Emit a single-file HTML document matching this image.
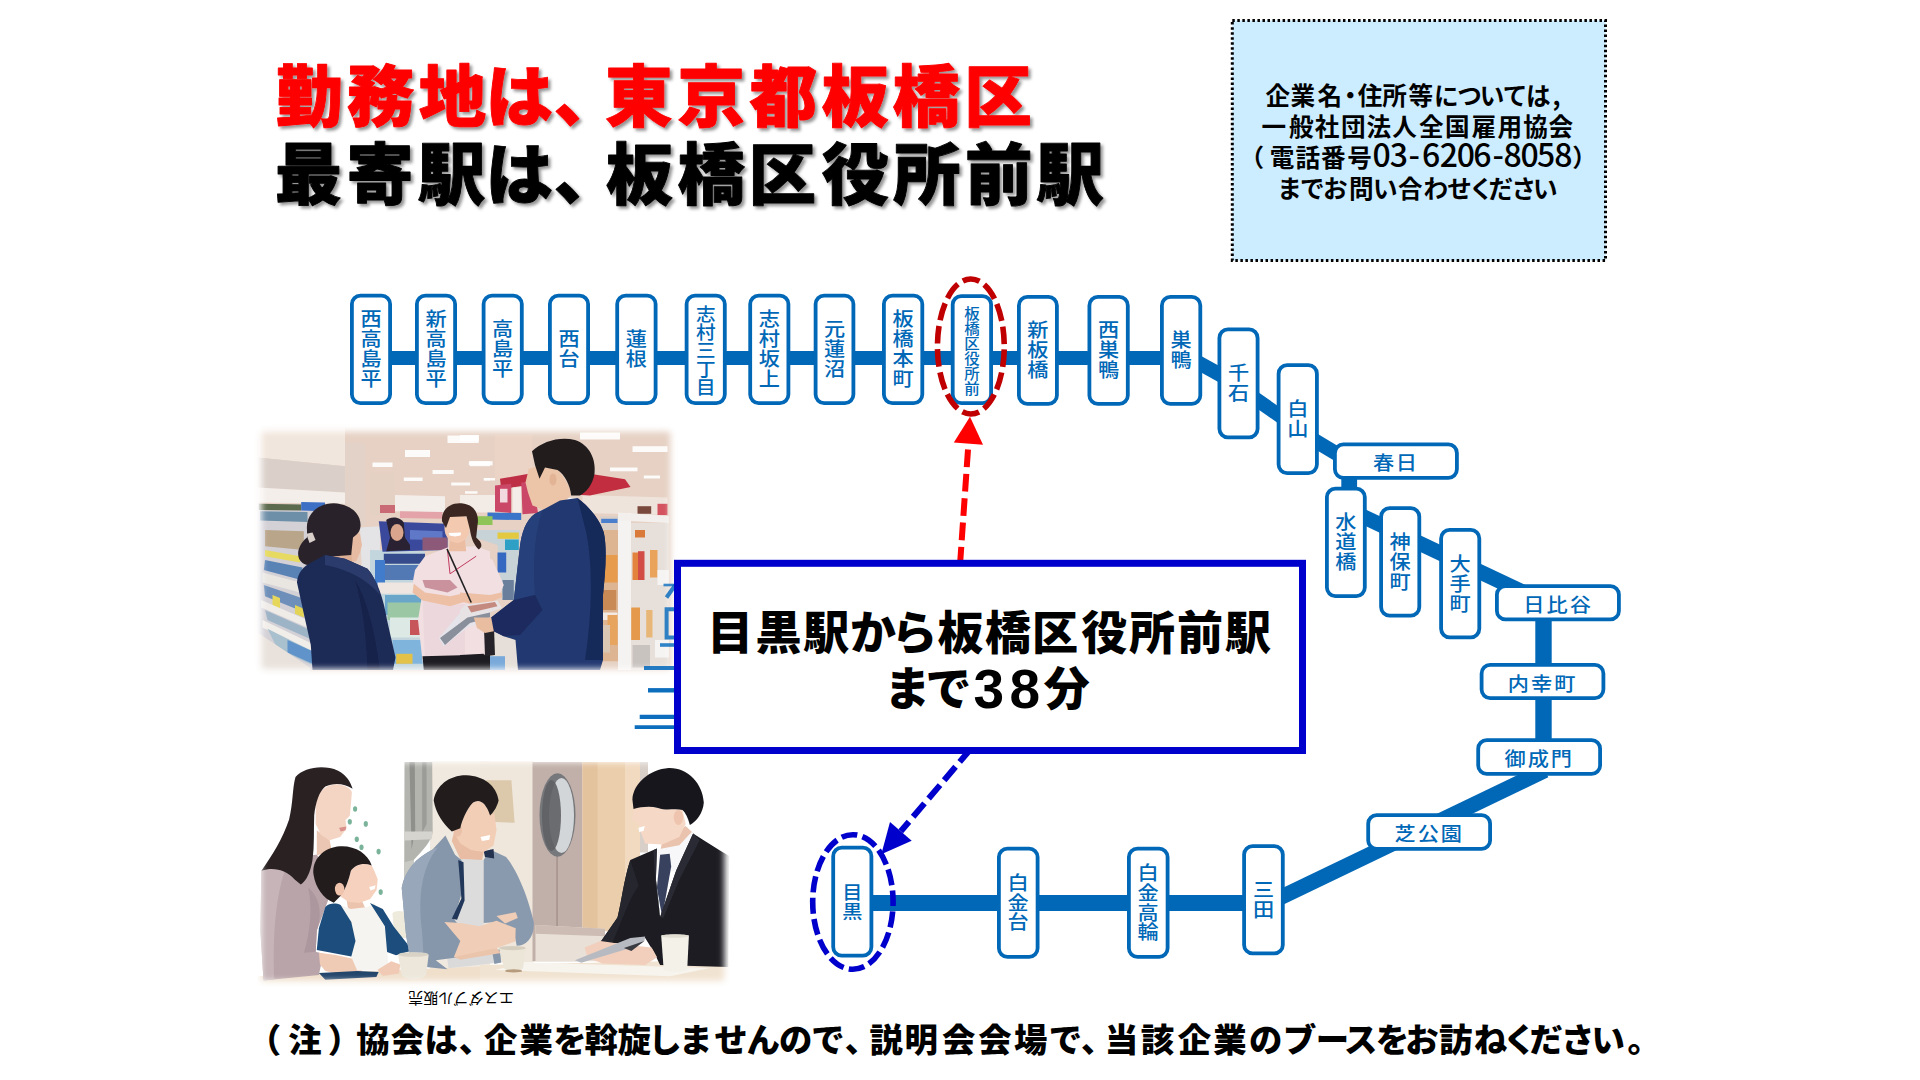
<!DOCTYPE html>
<html lang="ja">
<head>
<meta charset="utf-8">
<title>勤務地は、東京都板橋区</title>
<style>
html,body{margin:0;padding:0;background:#fff;}
body{width:1920px;height:1080px;overflow:hidden;position:relative;font-family:"Liberation Sans","Noto Sans CJK JP",sans-serif;}
svg{position:absolute;left:0;top:0;display:block;}
svg text{font-family:"Liberation Sans","Noto Sans CJK JP",sans-serif;}
.jp{font-family:"Noto Sans CJK JP","Liberation Sans",sans-serif;}
.st rect{fill:#fff;stroke:#0068B7;stroke-width:3.8;}
.lb text{fill:#0068B7;text-anchor:middle;font-family:"Noto Sans CJK JP","Liberation Sans",sans-serif;font-weight:500;}
.ttl{font-family:"Noto Sans CJK JP","Liberation Sans",sans-serif;font-weight:900;}
</style>
</head>
<body>
<svg width="1920" height="1080" viewBox="0 0 1920 1080">
<defs>
<filter id="tsh" x="-5%" y="-20%" width="110%" height="150%">
  <feDropShadow dx="2.6" dy="2.6" stdDeviation="1.6" flood-color="#000" flood-opacity="0.42"/>
</filter>
<filter id="soft" x="-2%" y="-2%" width="104%" height="104%"><feGaussianBlur stdDeviation="0.7"/></filter>
<filter id="feath" x="-10%" y="-10%" width="120%" height="120%"><feGaussianBlur stdDeviation="3.2"/></filter>
<mask id="pm1" maskUnits="userSpaceOnUse" x="240" y="415" width="450" height="275"><rect x="261.5" y="431.5" width="409" height="237.5" rx="3" fill="#fff" filter="url(#feath)"/></mask>
<mask id="pm2" maskUnits="userSpaceOnUse" x="240" y="745" width="510" height="255"><rect x="261" y="762" width="463.5" height="219" rx="3" fill="#fff" filter="url(#feath)"/></mask>
</defs>
<rect width="1920" height="1080" fill="#fff"/>

<!-- ===== photos ===== -->
<g mask="url(#pm1)"><g filter="url(#soft)"><rect x="250" y="424" width="430" height="256" fill="#E6D1C4"/>
<rect x="447.5" y="435.5" width="31.2" height="7.5" fill="#FFFFFF" opacity=".9"/>
<rect x="405.0" y="450.0" width="25.0" height="7.0" fill="#FFFFFF" opacity=".9"/>
<rect x="470.0" y="461.2" width="20.0" height="5.0" fill="#FFFFFF" opacity=".9"/>
<rect x="372.5" y="462.5" width="20.0" height="4.5" fill="#FFFFFF" opacity=".9"/>
<rect x="432.5" y="470.0" width="21.2" height="4.0" fill="#FFFFFF" opacity=".9"/>
<rect x="348.8" y="471.2" width="16.2" height="4.2" fill="#FFFFFF" opacity=".9"/>
<rect x="403.8" y="477.5" width="18.8" height="3.5" fill="#FFFFFF" opacity=".9"/>
<rect x="451.2" y="482.5" width="18.8" height="3.0" fill="#FFFFFF" opacity=".9"/>
<rect x="483.8" y="478.0" width="6.2" height="2.5" fill="#FFFFFF" opacity=".9"/>
<rect x="460.0" y="435.0" width="18.8" height="6.2" fill="#FFFFFF" opacity=".9"/>
<rect x="580.0" y="432.5" width="40.0" height="7.0" fill="#FFFFFF" opacity=".9"/>
<rect x="468.8" y="461.2" width="23.8" height="4.2" fill="#FFFFFF" opacity=".9"/>
<rect x="632.5" y="446.2" width="35.0" height="5.8" fill="#FFFFFF" opacity=".9"/>
<rect x="610.0" y="467.5" width="27.5" height="3.8" fill="#FFFFFF" opacity=".9"/>
<rect x="483.8" y="478.0" width="11.2" height="2.5" fill="#FFFFFF" opacity=".9"/>
<rect x="643.8" y="475.5" width="16.2" height="3.0" fill="#FFFFFF" opacity=".9"/>
<rect x="465.0" y="491.2" width="12.5" height="2.5" fill="#FFFFFF" opacity=".9"/>
<path d="M257.5 427.5 L345.0 427.5 L345.0 466.2 L257.5 457.5 Z" fill="#F1E6DD"/>
<path d="M257.5 457.5 L345.0 466.2 L345.0 492.5 L257.5 487.5 Z" fill="#DAD0C9"/>
<path d="M257.5 487.5 L345.0 492.5 L345.0 503.8 L257.5 502.5 Z" fill="#F3EEEA"/>
<path d="M345.0 442.5 L365.0 443.8 L365.0 525.0 L345.0 525.0 Z" fill="#E3D2C8"/>
<path d="M370.0 472.5 L395.0 472.5 L395.0 515.0 L370.0 515.0 Z" fill="#E5D0C4"/>
<path d="M395.0 495.0 L445.0 496.2 L445.0 512.5 L395.0 511.2 Z" fill="#F4EEEA"/>
<path d="M380.0 505.0 L395.0 505.0 L395.0 513.0 L380.0 513.0 Z" fill="#C96A74"/>
<path d="M400.0 511.2 L442.5 512.0 L442.5 518.8 L400.0 518.0 Z" fill="#E3A3A8"/>
<path d="M257.5 503.8 L315.0 505.0 L315.0 670.0 L257.5 670.0 Z" fill="#D3D0D6"/>
<path d="M258.8 503.8 L301.2 504.5 L301.2 510.5 L258.8 510.0 Z" fill="#5C6A4E"/>
<path d="M301.2 502.0 L325.0 502.5 L325.0 511.2 L301.2 510.5 Z" fill="#3D6FC4"/>
<path d="M260.0 511.2 L307.5 512.0 L307.5 522.0 L260.0 520.5 Z" fill="#6E8FA8"/>
<path d="M265.0 530.0 L303.8 531.2 L303.8 550.0 L265.0 546.2 Z" fill="#B9A58A"/>
<path d="M265.0 550.0 L300.0 556.2 L300.0 562.5 L265.0 556.2 Z" fill="#E7DA63"/>
<path d="M265.0 560.0 L302.5 567.5 L301.2 580.0 L263.8 570.0 Z" fill="#5A83B5"/>
<path d="M262.5 572.5 L300.0 582.5 L300.0 592.5 L262.5 582.5 Z" fill="#E9E6E2"/>
<path d="M263.8 585.0 L303.8 598.8 L305.0 612.5 L265.0 596.2 Z" fill="#6D8FB9"/>
<path d="M272.5 595.0 L280.0 598.0 L280.0 610.0 L272.5 606.2 Z" fill="#E6D75A"/>
<path d="M261.2 600.0 L307.5 620.0 L307.5 627.5 L261.2 607.5 Z" fill="#EFECE8"/>
<path d="M265.0 610.0 L310.0 630.0 L312.5 640.0 L267.5 620.0 Z" fill="#9DB3C6"/>
<path d="M295.0 605.0 L303.8 608.8 L303.8 617.5 L295.0 613.8 Z" fill="#E4D456"/>
<path d="M262.5 620.0 L315.0 645.0 L315.0 652.5 L262.5 627.5 Z" fill="#F1EEEA"/>
<path d="M267.5 628.8 L315.0 652.5 L315.0 666.2 L277.5 648.8 Z" fill="#A9C0CE"/>
<path d="M287.5 640.0 L312.5 651.2 L312.5 663.8 L287.5 652.5 Z" fill="#5E93C9"/>
<path d="M257.5 632.5 L310.0 667.5 L310.0 672.5 L257.5 672.5 Z" fill="#E9E2DC"/>
<path d="M360.0 527.5 L380.0 526.2 L380.0 585.0 L362.5 585.0 Z" fill="#E4E4E6"/>
<path d="M370.0 550.0 L425.0 551.2 L425.0 670.0 L370.0 670.0 Z" fill="#C3D5DD"/>
<path d="M378.8 521.2 L447.5 523.8 L447.5 550.0 L382.5 551.8 Z" fill="#3B4A9C"/>
<path d="M386.2 520.0 C390.0 516.2 400.0 516.2 403.8 522.5 L405.0 537.5 L410.0 545.0 L410.0 550.0 L386.2 551.2 L390.0 537.5 Z" fill="#2A2430"/>
<ellipse cx="397.0" cy="532.5" rx="6.5" ry="8.5" fill="#D9A58C"/>
<path d="M410.0 530.0 L442.5 531.2 L442.5 540.0 L410.0 539.5 Z" fill="#5F79C8"/>
<path d="M422.5 537.5 L447.5 537.5 L447.5 550.0 L422.5 550.0 Z" fill="#8C5A78"/>
<path d="M383.8 553.8 L425.0 553.8 L425.0 563.8 L383.8 563.8 Z" fill="#344B8C"/>
<path d="M385.0 565.0 L420.0 565.0 L420.0 580.0 L385.0 580.0 Z" fill="#5279B5"/>
<path d="M375.0 560.0 L385.0 560.0 L385.0 590.0 L375.0 590.0 Z" fill="#3F7CCB"/>
<path d="M377.5 582.5 L425.0 582.5 L425.0 593.8 L377.5 593.8 Z" fill="#EFE6E2"/>
<path d="M385.0 595.0 L425.0 595.0 L425.0 615.0 L385.0 615.0 Z" fill="#6AA6C9"/>
<path d="M387.5 602.5 L425.0 602.5 L425.0 620.0 L387.5 620.0 Z" fill="#9CC7A5"/>
<path d="M390.0 617.5 L422.5 617.5 L422.5 637.5 L390.0 637.5 Z" fill="#DDE9E4"/>
<path d="M410.0 620.0 L422.5 620.0 L422.5 635.0 L410.0 635.0 Z" fill="#C7565A"/>
<path d="M392.5 640.0 L422.5 640.0 L422.5 663.8 L392.5 663.8 Z" fill="#7FB4DD"/>
<path d="M396.2 653.8 L412.5 653.8 L412.5 663.8 L396.2 663.8 Z" fill="#E4C24A"/>
<path d="M495.0 435.0 L532.5 435.0 L532.5 480.0 L495.0 480.0 Z" fill="#EBD3C5"/>
<path d="M460.0 495.0 L495.0 495.0 L495.0 512.5 L460.0 512.5 Z" fill="#F3ECE6"/>
<path d="M582.5 495.0 L667.5 497.5 L667.5 515.0 L582.5 513.0 Z" fill="#EFE4DC"/>
<path d="M500.0 478.8 L528.8 473.8 L530.0 484.5 L501.2 489.5 Z" fill="#BE2D45"/>
<path d="M495.0 485.5 L511.2 483.8 L511.2 513.0 L495.0 511.5 Z" fill="#CB4767"/>
<path d="M500.0 488.8 L507.5 488.8 L507.5 502.5 L500.0 502.5 Z" fill="#F2D9DF"/>
<path d="M521.2 482.5 L533.0 481.2 L538.0 513.0 L522.5 514.2 Z" fill="#CB4767"/>
<path d="M512.5 487.5 L521.2 487.0 L521.2 512.5 L512.5 512.5 Z" fill="#F3ECE8"/>
<path d="M582.0 478.0 L590.0 473.8 L625.0 479.2 L630.5 487.0 L590.0 495.5 L581.0 495.0 Z" fill="#C22E3F"/>
<path d="M637.5 506.2 L651.2 506.2 L651.2 513.8 L637.5 513.8 Z" fill="#7A4A3C"/>
<path d="M657.5 503.8 L667.5 503.8 L667.5 515.0 L657.5 515.0 Z" fill="#D3525E"/>
<path d="M487.5 512.5 L521.2 513.0 L521.2 520.0 L487.5 519.5 Z" fill="#3A74C9"/>
<path d="M477.0 516.2 L492.5 516.2 L492.5 525.0 L477.0 525.0 Z" fill="#8FC558"/>
<path d="M475.0 530.0 L520.0 530.0 L516.2 600.0 L502.5 600.0 L497.5 545.0 L475.0 537.5 Z" fill="#C7D3D6"/>
<path d="M497.5 532.5 L518.8 532.5 L518.8 538.8 L497.5 538.8 Z" fill="#E3C93F"/>
<path d="M505.0 539.5 L518.8 539.5 L518.8 550.0 L505.0 550.0 Z" fill="#2FA0C6"/>
<path d="M497.5 552.5 L506.2 552.5 L506.2 572.5 L497.5 572.5 Z" fill="#3567C0"/>
<path d="M502.5 580.0 L513.8 580.0 L513.8 600.0 L502.5 600.0 Z" fill="#6B7F9C"/>
<path d="M600.0 516.2 L620.0 516.2 L620.0 530.0 L600.0 530.0 Z" fill="#D8CFC9"/>
<path d="M601.2 518.8 L617.5 518.8 L617.5 523.0 L601.2 523.0 Z" fill="#4A7FCC"/>
<path d="M595.0 530.0 L618.8 530.0 L618.8 661.2 L595.0 661.2 Z" fill="#DDB592"/>
<path d="M603.8 555.0 L617.5 555.0 L617.5 582.5 L603.8 582.5 Z" fill="#E79B4E"/>
<path d="M596.2 590.0 L616.2 590.0 L616.2 610.0 L596.2 610.0 Z" fill="#C98A55"/>
<path d="M596.2 612.5 L617.5 612.5 L617.5 620.0 L596.2 620.0 Z" fill="#F1E9E2"/>
<path d="M607.5 615.0 L617.5 615.0 L617.5 645.0 L607.5 645.0 Z" fill="#E7A45E"/>
<path d="M596.2 625.0 L610.0 625.0 L610.0 652.5 L596.2 652.5 Z" fill="#D9C7B4"/>
<path d="M618.0 513.0 L631.0 513.0 L631.0 670.0 L618.0 670.0 Z" fill="#F5F3F1"/>
<path d="M618.0 512.5 L668.8 516.0 L668.8 523.0 L618.0 520.5 Z" fill="#F2EFEC"/>
<path d="M631.0 523.0 L668.8 523.0 L668.8 670.0 L631.0 670.0 Z" fill="#E7E0DA"/>
<path d="M635.0 530.0 L645.0 530.0 L645.0 537.5 L635.0 537.5 Z" fill="#D97A3A"/>
<path d="M632.5 552.5 L638.0 552.5 L638.0 580.0 L632.5 580.0 Z" fill="#E2823E"/>
<path d="M638.0 551.2 L644.5 551.2 L644.5 580.0 L638.0 580.0 Z" fill="#D24B45"/>
<path d="M650.0 550.0 L657.5 550.0 L657.5 577.5 L650.0 577.5 Z" fill="#E9A35A"/>
<path d="M631.2 607.5 L640.0 607.5 L640.0 640.0 L631.2 640.0 Z" fill="#E59A4C"/>
<path d="M646.2 610.0 L652.5 610.0 L652.5 637.5 L646.2 637.5 Z" fill="#E8B777"/>
<path d="M657.5 570.0 L668.8 570.0 L668.8 585.0 L657.5 585.0 Z" fill="#F6F4F2"/>
<path d="M655.0 640.0 L668.8 640.0 L668.8 657.5 L655.0 657.5 Z" fill="#F6F4F2"/>
<path d="M632.5 645.0 L650.0 645.0 L650.0 667.5 L632.5 667.5 Z" fill="#C9C3C0"/>
<path d="M485.0 632.5 L520.0 632.5 L520.0 670.0 L482.5 670.0 Z" fill="#E6DFD9"/>
<path d="M483.8 656.2 L505.0 656.2 L505.0 670.0 L483.8 670.0 Z" fill="#79A9DA"/>
<path d="M348.8 531.2 L360.0 533.8 L362.0 545.0 L360.0 552.5 L356.2 561.2 L348.8 562.5 Z" fill="#E7BBA2"/>
<path d="M332.5 550.0 L351.2 550.0 L352.5 563.8 L332.5 565.0 Z" fill="#DDB096"/>
<path d="M307.0 530.0 C305.5 515.0 317.5 503.0 333.8 503.2 C350.0 503.8 361.5 513.8 360.5 526.2 C360.0 532.5 356.2 535.0 353.0 537.5 L351.2 555.0 L325.0 557.0 C320.0 563.8 310.0 568.0 302.5 563.0 C295.0 557.5 297.5 545.0 307.0 537.5 Z" fill="#2B2429"/>
<path d="M306.2 533.8 L312.5 532.5 L315.5 540.0 L309.5 543.0 Z" fill="#D9D0CC"/>
<path d="M325.0 555.0 L345.0 558.8 L367.5 568.8 C377.5 580.0 383.8 600.0 387.0 620.0 L395.5 657.5 L393.0 670.0 L312.5 670.0 L310.8 645.0 L303.0 610.0 L297.0 582.5 C297.5 572.5 303.8 566.2 311.2 562.5 Z" fill="#1E2B57"/>
<path d="M325.0 555.0 L345.0 558.8 L367.5 568.8 C373.8 576.2 377.5 585.0 380.0 595.0 C367.5 580.0 350.0 570.0 325.0 565.0 Z" fill="#2A3A6C"/>
<path d="M355.0 580.0 C367.5 600.0 375.0 632.5 380.0 670.0 L367.5 670.0 C366.2 635.0 362.5 605.0 355.0 580.0 Z" fill="#17224A"/>
<path d="M425.0 556.2 L447.5 547.5 L475.0 546.2 L490.0 551.2 L490.0 658.8 L422.5 661.2 L418.0 620.0 L422.5 592.5 L412.5 583.8 L415.0 570.0 Z" fill="#F1DFE2"/>
<path d="M460.0 550.0 L477.5 550.0 L492.5 560.0 L503.8 585.0 L500.0 593.8 L490.0 596.2 L485.0 610.0 L487.5 655.0 L460.0 660.0 Z" fill="#F1DFE2"/>
<path d="M422.5 595.0 L450.0 605.0 L465.0 603.8 L465.0 660.0 L425.0 661.2 Z" fill="#E9D3D8" opacity=".6"/>
<path d="M422.5 656.2 L490.0 654.5 L490.0 670.0 L423.8 670.0 Z" fill="#1C1B20"/>
<path d="M460.0 655.0 L483.8 653.8 L485.0 670.0 L460.0 670.0 Z" fill="#1C1B20"/>
<path d="M483.8 622.5 L493.8 622.5 L495.0 655.0 L485.0 656.2 Z" fill="#26242A"/>
<path d="M413.8 583.8 L425.0 592.5 L450.0 596.2 L467.5 592.5 L471.2 600.0 L450.0 606.2 L422.5 600.5 L412.5 592.5 Z" fill="#EDC0A6"/>
<path d="M460.0 592.5 L490.0 595.0 L501.2 592.5 L502.5 597.0 L490.0 602.5 L470.0 603.8 L460.0 601.2 Z" fill="#EDC0A6"/>
<path d="M422.5 580.0 L450.0 580.0 L457.5 587.5 L447.5 592.5 L425.0 587.5 Z" fill="#C9929D"/>
<path d="M447.5 550.0 L450.0 573.8 L476.2 556.2" fill="none" stroke="#C23A5E" stroke-width="1"/>
<path d="M447.0 548.8 L471.2 602.5" fill="none" stroke="#222" stroke-width="1.6"/>
<path d="M450.0 540.0 L465.0 540.0 L466.2 551.2 L448.8 551.2 Z" fill="#EBBDA3"/>
<ellipse cx="457.0" cy="528.0" rx="12.5" ry="15.0" fill="#F3C9B0"/>
<path d="M442.0 521.2 C441.2 507.5 452.5 502.0 463.0 503.5 C475.0 505.0 479.5 515.0 477.5 525.0 L476.2 537.5 C482.0 542.5 483.0 546.2 478.8 549.5 C473.8 545.0 471.0 537.5 470.0 530.0 L466.5 516.2 L450.0 517.0 L446.0 528.0 Z" fill="#3A2621"/>
<path d="M448.8 533.0 L461.2 532.5 L460.5 535.5 L455.0 536.5 L449.5 535.5 Z" fill="#FFFFFF"/>
<path d="M438.8 638.0 L462.5 610.0 L490.0 603.8 L490.0 620.0 L467.5 627.5 L443.8 646.2 Z" fill="#E4E4EA"/>
<path d="M460.0 610.0 L465.0 605.0 L497.5 600.5 L502.0 608.0 L475.0 617.5 L460.0 627.5 Z" fill="#E7E2E4"/>
<path d="M467.5 606.2 L495.0 602.0 L497.5 606.2 L471.2 612.5 Z" fill="#C48A80"/>
<path d="M440.0 638.0 L467.5 617.5 L490.0 612.5 L490.0 617.5 L470.0 623.0 L445.0 645.0 Z" fill="#8A8F9C"/>
<path d="M545.0 506.2 L560.0 497.5 L577.5 498.0 L565.0 504.5 L546.2 511.2 Z" fill="#F5F5F7"/>
<path d="M528.8 468.8 L539.5 466.2 L545.0 467.5 L557.5 470.0 C565.0 477.5 570.0 487.5 571.2 495.0 L560.0 506.2 L542.5 509.2 L532.5 505.5 L528.0 492.5 L525.5 482.5 Z" fill="#ECC4A8"/>
<path d="M532.0 451.2 C542.5 441.2 560.0 436.2 575.0 440.0 C590.0 445.0 596.2 460.0 594.5 473.8 C592.5 485.0 586.2 492.5 580.0 495.5 L571.2 495.5 C570.0 485.0 565.0 475.0 557.5 470.0 L545.0 467.5 L539.5 478.8 L535.0 465.0 Z" fill="#201C1F"/>
<ellipse cx="553.0" cy="479.5" rx="3.5" ry="6.0" fill="#E2B395"/>
<path d="M560.0 500.5 L577.5 498.0 C590.0 507.5 600.0 520.0 603.8 532.5 C607.5 550.0 605.0 575.0 603.0 595.0 L603.0 660.0 L600.0 670.0 L518.0 670.0 L515.5 640.0 L503.8 636.2 L493.8 631.2 C489.5 627.5 489.5 620.0 491.2 617.5 L513.8 600.0 L519.5 550.0 C521.2 532.5 526.2 520.0 535.0 513.8 L546.2 508.0 Z" fill="#22386F"/>
<path d="M577.5 498.0 C590.0 507.5 600.0 520.0 603.8 532.5 C607.5 550.0 605.0 575.0 603.0 595.0 L603.0 660.0 L585.0 660.0 C591.2 620.0 593.8 570.0 586.2 532.5 Z" fill="#18295A"/>
<path d="M519.5 550.0 C521.2 532.5 526.2 520.0 535.0 513.8 L542.5 510.5 C535.0 530.0 532.5 560.0 535.0 595.0 L513.8 600.0 Z" fill="#28407C"/>
<path d="M513.8 600.0 L535.0 595.0 L542.5 610.0 L520.0 635.0 L503.8 636.2 L493.8 631.2 C489.5 627.5 489.5 620.0 491.2 617.5 Z" fill="#1B2C5E"/>
<path d="M473.8 617.5 L491.2 617.5 L493.8 631.2 L485.0 633.0 L477.0 628.0 Z" fill="#E9BD9F"/></g></g>
<g mask="url(#pm2)"><g filter="url(#soft)"><rect x="250" y="752" width="490" height="240" fill="#FFFFFF"/>
<path d="M430.0 761.2 L490.0 761.2 L490.0 970.0 L430.0 970.0 Z" fill="#F0E9DF"/>
<path d="M480.0 761.2 L533.8 761.2 L533.8 962.5 L480.0 962.5 Z" fill="#EFE7DC"/>
<path d="M485.9 780.2 L511.4 780.2 L514.6 822.8 L490.1 821.8 Z" fill="#DCC8AB"/>
<path d="M404.5 762.1 L432.2 762.1 L432.7 832.4 C430.7 842.0 423.3 849.5 413.7 860.1 L412.6 907.0 L404.1 907.0 Z" fill="#B4B4AF"/>
<path d="M409.4 762.1 L414.8 762.1 L415.2 830.3 L411.6 849.5 Z" fill="#8F908C"/>
<path d="M422.2 762.1 L426.5 762.1 L426.7 823.9 L422.2 832.4 Z" fill="#9B9C98"/>
<path d="M404.1 831.4 L432.7 831.4 L431.8 839.2 L404.1 840.5 Z" fill="#D6D4CE"/>
<path d="M404.1 862.2 L413.7 860.1 L412.6 907.0 L404.1 907.0 Z" fill="#C9C9C4"/>
<ellipse cx="349.8" cy="821.8" rx="2.1" ry="2.8" fill="#4E9A78" opacity=".75"/>
<ellipse cx="356.8" cy="839.2" rx="2.1" ry="2.8" fill="#4E9A78" opacity=".75"/>
<ellipse cx="365.8" cy="823.9" rx="2.1" ry="2.8" fill="#4E9A78" opacity=".75"/>
<ellipse cx="378.6" cy="851.6" rx="2.1" ry="2.8" fill="#4E9A78" opacity=".75"/>
<ellipse cx="361.5" cy="847.3" rx="2.1" ry="2.8" fill="#4E9A78" opacity=".75"/>
<ellipse cx="355.1" cy="809.0" rx="2.1" ry="2.8" fill="#4E9A78" opacity=".75"/>
<ellipse cx="380.7" cy="892.1" rx="2.1" ry="2.8" fill="#4E9A78" opacity=".75"/>
<path d="M532.5 762.0 L582.5 762.0 L582.5 961.2 L532.5 961.2 Z" fill="#C1B0A9"/>
<path d="M556.2 855.0 L558.0 855.0 L558.0 960.0 L556.2 960.0 Z" fill="#A99790"/>
<path d="M582.5 762.0 L640.0 762.0 L640.0 931.2 L582.5 931.2 Z" fill="#EBCFAD"/>
<path d="M582.5 762.0 L597.5 762.0 L597.5 931.2 L582.5 931.2 Z" fill="#E3C29E"/>
<path d="M625.0 762.0 L640.0 762.0 L640.0 931.2 L625.0 931.2 Z" fill="#F1DAC0"/>
<path d="M640.0 762.0 L648.0 762.0 L648.0 852.5 L640.0 852.5 Z" fill="#D9CFC9"/>
<path d="M535.5 925.0 L605.0 928.8 L605.0 961.2 L535.5 961.2 Z" fill="#E9E1D8"/>
<path d="M535.5 925.0 L605.0 928.8 L605.0 936.2 L535.5 933.8 Z" fill="#CDBCB3"/>
<ellipse cx="557.5" cy="815.0" rx="18.0" ry="41.8" fill="#77787C"/>
<ellipse cx="561.5" cy="815.5" rx="12.5" ry="37.5" fill="#D3D6D8"/>
<ellipse cx="551.5" cy="815.5" rx="9.5" ry="35.5" fill="#5F6064" opacity=".9"/>
<path d="M392.4 913.4 C394.5 910.2 404.1 910.2 406.7 913.4 L407.3 937.9 L394.5 937.9 Z" fill="#EEEBDD"/>
<path d="M257.5 976.2 L425.0 968.8 L490.0 966.2 L490.0 987.5 L257.5 987.5 Z" fill="#EFDFCB"/>
<path d="M480.0 965.0 L730.0 960.0 L730.0 987.5 L480.0 987.5 Z" fill="#F1E3D1"/>
<path d="M525.0 962.5 L710.0 968.0 L670.0 976.2 L495.0 970.0 Z" fill="#F7F4EE"/>
<path d="M316.8 830.3 L329.6 839.9 L331.7 850.5 L316.8 855.4 Z" fill="#EBC6B2"/>
<path d="M261.4 870.8 C267.8 864.4 280.6 858.0 291.2 855.9 L316.8 854.8 L325.3 866.5 L329.6 896.3 L323.2 913.4 L316.8 930.4 L315.7 951.7 L323.2 953.8 L318.9 975.1 L263.5 980.5 L260.3 930.4 Z" fill="#B8A4A9"/>
<path d="M261.4 870.8 C267.8 864.4 280.6 858.0 291.2 855.9 C278.4 879.3 272.0 921.9 274.2 979.4 L263.5 980.5 L260.3 930.4 Z" fill="#C6B4B8"/>
<path d="M308.3 887.8 C318.9 896.3 323.2 913.4 316.8 930.4 L315.7 951.7 L304.0 952.8 C310.4 930.4 312.5 909.1 308.3 887.8 Z" fill="#AB979D"/>
<path d="M315.7 802.6 C317.8 792.0 325.3 785.6 333.8 784.5 C342.3 783.4 349.8 787.7 351.9 792.0 L350.9 804.7 L349.8 815.8 L345.5 820.1 L346.6 828.6 L340.2 837.1 L329.6 840.3 L321.0 835.0 L315.7 823.9 Z" fill="#F4D5C4"/>
<path d="M339.1 827.7 L346.2 826.5 L345.5 830.3 L340.6 831.6 Z" fill="#D98F8A"/>
<path d="M295.5 777.0 C304.0 767.5 323.2 764.3 338.1 770.7 C346.6 774.9 350.9 782.4 352.6 788.8 C344.5 783.4 333.8 782.4 325.3 786.6 C318.9 792.0 315.7 802.6 314.2 815.4 C313.6 830.3 314.6 845.2 312.5 860.1 C310.4 872.9 306.1 881.4 300.8 884.6 L294.4 879.3 C287.0 870.8 274.2 866.5 261.4 870.8 C272.0 855.9 282.7 838.8 289.1 819.6 C293.3 802.6 292.3 787.7 295.5 777.0 Z" fill="#2A2124"/>
<path d="M318.9 952.8 L335.9 954.9 L355.1 959.2 L363.6 966.6 L359.4 976.2 L344.5 975.1 L325.3 970.9 L320.0 964.5 Z" fill="#EFCAB5"/>
<path d="M346.6 899.5 L362.6 902.3 L366.2 910.2 L348.3 910.2 Z" fill="#ECC3AD"/>
<path d="M340.2 904.9 L350.9 909.1 L367.9 907.0 L374.3 902.7 L385.4 926.2 L387.5 951.7 L388.3 970.5 L357.2 970.5 L350.9 956.0 L355.1 941.1 L350.9 921.9 Z" fill="#F6F4F0"/>
<path d="M325.3 907.0 C329.6 902.7 335.9 903.1 340.6 904.9 L351.3 921.9 L355.5 941.1 L351.3 956.4 L316.8 950.0 L318.9 928.3 Z" fill="#1E4E7B"/>
<path d="M370.0 903.1 L382.8 909.1 L393.5 926.2 L408.4 945.3 L410.5 951.1 L396.0 955.3 L387.1 952.1 L384.9 926.2 Z" fill="#1E4E7B"/>
<path d="M318.9 973.0 L357.2 970.9 L378.6 972.0 L376.4 976.9 L325.3 979.8 Z" fill="#23456B"/>
<path d="M377.5 969.8 L391.3 961.3 L400.3 964.5 L399.0 973.4 L382.8 976.0 Z" fill="#F0CAB4"/>
<path d="M350.9 870.8 C355.1 864.4 363.6 862.2 371.7 865.4 L374.3 870.8 L377.7 879.3 L376.6 889.9 L370.2 898.9 L359.4 903.1 L348.7 902.1 L340.2 896.3 C346.6 887.8 348.7 879.3 350.9 870.8 Z" fill="#F6D1BD"/>
<path d="M369.2 887.0 L375.6 885.3 L374.7 889.1 L370.5 890.4 Z" fill="#FFFFFF"/>
<path d="M313.6 875.0 C311.4 860.1 323.2 847.3 340.2 846.3 C355.1 845.6 367.9 853.7 371.7 865.4 C363.6 862.2 355.1 864.4 350.9 870.8 C348.7 879.3 346.6 887.8 340.2 896.3 L333.8 902.7 C323.2 898.5 315.7 887.8 313.6 875.0 Z" fill="#221C1E"/>
<ellipse cx="339.6" cy="889.1" rx="4.7" ry="6.4" fill="#EFC3AC"/>
<path d="M453.9 832.4 L470.9 849.5 L483.7 851.6 L482.0 860.5 L460.3 859.1 L451.8 840.9 Z" fill="#E8BDA3"/>
<path d="M460.3 859.1 L483.7 860.1 L483.7 930.4 L453.9 928.3 L463.5 887.8 Z" fill="#DCDCDD"/>
<path d="M447.1 958.1 L496.5 951.3 L499.9 962.4 L448.6 968.3 Z" fill="#DADADB"/>
<path d="M401.7 887.8 C404.9 870.8 415.6 858.0 432.6 849.5 L445.4 835.6 L455.0 854.8 L461.4 860.1 L463.5 887.8 L453.9 918.7 L462.4 930.4 L460.3 957.0 L435.8 960.2 L447.5 969.2 L411.3 965.6 L406.0 934.7 Z" fill="#8797AB"/>
<path d="M401.7 887.8 C404.9 870.8 415.6 858.0 432.6 849.5 L437.9 847.3 C422.0 866.5 417.7 896.3 422.0 930.4 L424.1 964.5 L411.3 965.6 L406.0 934.7 Z" fill="#98A7B9"/>
<path d="M483.7 860.1 L490.1 849.5 L506.1 856.9 C517.8 870.8 528.5 898.5 533.8 921.9 C534.9 936.8 526.3 945.8 516.7 945.8 L513.6 930.4 L496.5 921.9 L483.7 923.0 Z" fill="#8A9AAE"/>
<path d="M492.2 951.7 L499.9 949.2 L501.2 962.4 L494.4 964.1 Z" fill="#8797AB"/>
<path d="M458.2 860.1 L463.5 862.2 L464.6 900.6 L457.1 919.8 L451.8 918.7 L461.4 898.5 Z" fill="#22375A"/>
<path d="M483.7 851.2 L493.5 849.0 L494.2 858.4 L485.0 857.1 Z" fill="#20304F"/>
<path d="M444.3 921.9 L460.3 923.0 L479.5 926.2 L496.5 920.8 L515.7 928.3 L515.3 941.5 L496.5 947.9 L460.3 957.5 L453.9 957.0 L460.3 941.1 Z" fill="#F0CDB6"/>
<path d="M453.9 957.0 L496.5 947.9 L501.2 953.0 L460.3 959.8 Z" fill="#EBC4AC"/>
<path d="M496.5 915.9 L515.7 912.3 L517.8 918.1 L505.0 923.6 Z" fill="#F0CDB6"/>
<path d="M460.3 828.2 C462.4 819.6 466.7 809.0 473.1 802.6 C479.5 798.3 485.9 802.6 490.1 815.4 L494.4 813.3 L496.5 830.3 L493.5 845.6 L483.7 852.0 L470.9 849.9 L460.3 843.5 L453.9 832.4 Z" fill="#F3CEB7"/>
<path d="M480.5 837.1 L490.1 835.0 L489.3 839.7 L482.0 840.9 Z" fill="#FFFFFF"/>
<ellipse cx="457.7" cy="830.3" rx="4.3" ry="6.4" fill="#EBC0A8"/>
<path d="M433.7 800.5 C435.8 785.6 449.6 774.9 466.7 775.3 C483.7 776.0 496.5 785.6 498.6 800.5 C496.5 809.0 492.2 813.3 490.1 815.4 C485.9 802.6 479.5 798.3 473.1 802.6 C466.7 809.0 462.4 819.6 460.3 828.2 L451.8 831.4 C443.3 823.9 435.8 813.3 433.7 800.5 Z" fill="#211C1D"/>
<path d="M398.1 954.9 C400.9 951.7 426.5 951.7 428.6 954.9 L426.1 975.1 C423.3 980.5 404.1 980.5 401.6 975.1 Z" fill="#ECE7DA"/>
<ellipse cx="413.5" cy="954.5" rx="14.9" ry="2.3" fill="#D8D3C6"/>
<path d="M499.1 948.5 C500.8 945.3 524.2 945.3 525.9 948.5 L523.1 967.7 C519.9 973.0 506.1 973.0 504.0 967.7 Z" fill="#ECE6D8"/>
<ellipse cx="512.5" cy="948.1" rx="13.2" ry="2.1" fill="#D5CEBF"/>
<ellipse cx="513.6" cy="970.9" rx="8.5" ry="1.7" fill="#B79B7E"/>
<path d="M662.2 840.9 L685.7 826.0 L692.5 832.4 L679.3 849.9 L660.1 852.0 Z" fill="#EAC3AE"/>
<path d="M656.9 849.5 L679.3 845.2 L692.1 831.4 L693.3 845.2 L675.0 871.2 L660.1 871.2 Z" fill="#F7F7F9"/>
<path d="M660.1 854.8 L669.7 853.7 L671.2 866.5 L662.2 917.0 L656.9 887.8 Z" fill="#39435F"/>
<path d="M633.5 809.0 C640.9 806.9 649.5 805.8 658.0 807.9 C666.5 811.1 675.0 807.9 682.5 810.1 L685.7 823.9 L679.3 837.1 L662.2 844.6 L645.2 843.5 L640.9 832.4 L638.8 823.9 L631.4 819.6 L633.5 813.3 Z" fill="#F6D8C6"/>
<path d="M638.4 827.7 L644.8 826.0 L643.5 831.1 L639.2 832.0 Z" fill="#FFFFFF"/>
<ellipse cx="678.4" cy="817.5" rx="4.7" ry="7.5" fill="#EEC4AE"/>
<path d="M632.4 799.4 C633.5 783.4 649.5 769.6 668.6 768.1 C687.8 767.5 702.7 783.4 703.8 802.6 C703.1 813.3 696.3 821.8 689.9 825.0 C687.8 817.5 685.7 813.3 682.5 810.1 C675.0 807.9 666.5 811.1 658.0 807.9 C649.5 805.8 640.9 806.9 633.5 809.0 Z" fill="#18171B"/>
<path d="M656.9 848.4 L630.3 860.1 C623.9 879.3 621.8 900.6 617.5 917.6 L600.5 942.1 L619.6 943.6 L645.2 938.1 L653.7 951.7 L660.1 964.9 L728.3 967.1 L729.3 855.9 C717.6 849.5 704.9 840.9 693.1 833.5 L676.1 870.8 L660.1 917.0 L655.9 879.3 Z" fill="#1B1C22"/>
<path d="M693.1 833.5 L699.7 840.1 L679.3 879.7 L663.3 918.1 L660.1 917.0 L676.1 870.8 Z" fill="#2B2C34"/>
<path d="M656.9 848.4 L653.3 850.3 L655.0 879.3 L660.1 917.0 L655.9 879.3 Z" fill="#2B2C34"/>
<path d="M630.3 860.1 C623.9 879.3 621.8 900.6 617.5 917.6 L600.5 942.1 L612.2 943.2 C621.8 921.9 628.2 900.6 638.8 885.7 Z" fill="#25262E"/>
<path d="M584.5 947.5 L600.5 941.1 L630.3 945.3 L651.6 947.5 L657.1 957.3 L645.2 964.9 L602.6 963.6 L587.7 958.1 Z" fill="#F1CFBC"/>
<path d="M574.9 960.2 L630.3 937.9 L645.2 936.4 L644.4 941.1 L630.3 947.9 L581.3 962.8 Z" fill="#B8BAC1"/>
<path d="M623.9 947.9 L644.4 941.1 L631.4 951.1 Z" fill="#3A3A42"/>
<path d="M661.2 935.7 C663.3 934.2 687.2 934.2 688.9 935.7 L687.2 969.8 C683.6 972.6 666.5 972.6 663.7 969.8 Z" fill="#F4F1E8"/>
<ellipse cx="675.0" cy="936.0" rx="13.6" ry="1.7" fill="#E2DED2"/></g></g>

<!-- hidden line name peeking out from behind the time box -->
<g fill="none" stroke="#0D6EBE" stroke-width="4">
<path d="M675 585.5L666.5 597.5" opacity=".85"/>
<path d="M663.5 585H676" stroke-width="2.6" opacity=".8"/>
<path d="M677 609.3H666.6V637.6H677" opacity=".85"/>
<path d="M660 645H677" stroke-width="3.6" opacity=".85"/>
<path d="M644 668H677" opacity=".9"/>
<path d="M648 690.3H677" stroke-width="4.4"/>
<path d="M639.7 716.9H677" stroke-width="4.4"/>
<path d="M634.7 727.2H677" stroke-width="3.8"/>
</g>

<!-- ===== route lines ===== -->
<g fill="none" stroke="#0068B7" stroke-linecap="butt">
<path d="M371 358H1182" stroke-width="14"/>
<path d="M1180 352.5L1238 384.7" stroke-width="14.5"/>
<path d="M1240 388L1297 427.9" stroke-width="14"/>
<path d="M1300 431.7L1352 462.9" stroke-width="14.5"/>
<path d="M1349.2 465V500" stroke-width="15.8"/>
<path d="M1346 508.5L1545 602.6" stroke-width="15"/>
<path d="M1543.5 605V760" stroke-width="16.4"/>
<path d="M1545 770.4L1262 906.3" stroke-width="15.2"/>
<path d="M852 903H1264" stroke-width="16"/>
</g>

<!-- ===== station boxes ===== -->
<g class="st">
<rect x="351.90" y="295.60" width="38.20" height="107.50" rx="8.5" ry="8.5"/>
<rect x="416.90" y="295.60" width="38.20" height="107.50" rx="8.5" ry="8.5"/>
<rect x="483.60" y="295.60" width="38.20" height="107.50" rx="8.5" ry="8.5"/>
<rect x="549.90" y="295.60" width="38.20" height="107.50" rx="8.5" ry="8.5"/>
<rect x="617.20" y="295.60" width="38.40" height="107.50" rx="8.5" ry="8.5"/>
<rect x="686.60" y="295.60" width="38.20" height="107.50" rx="8.5" ry="8.5"/>
<rect x="750.20" y="295.60" width="38.20" height="107.50" rx="8.5" ry="8.5"/>
<rect x="815.60" y="295.60" width="37.80" height="107.50" rx="8.5" ry="8.5"/>
<rect x="883.90" y="295.60" width="38.40" height="107.50" rx="8.5" ry="8.5"/>
<rect x="952.70" y="296.10" width="38.40" height="107.00" rx="8.5" ry="8.5"/>
<rect x="1018.90" y="296.90" width="38.00" height="107.00" rx="8.5" ry="8.5"/>
<rect x="1089.40" y="296.90" width="38.40" height="107.00" rx="8.5" ry="8.5"/>
<rect x="1161.90" y="296.90" width="38.40" height="107.00" rx="8.5" ry="8.5"/>
<rect x="1219.40" y="329.40" width="38.20" height="107.90" rx="8.5" ry="8.5"/>
<rect x="1278.60" y="365.20" width="38.30" height="107.90" rx="8.5" ry="8.5"/>
<rect x="1334.90" y="444.40" width="122.00" height="33.40" rx="8.5" ry="8.5"/>
<rect x="1326.90" y="488.60" width="37.90" height="107.50" rx="8.5" ry="8.5"/>
<rect x="1381.10" y="508.20" width="38.20" height="107.40" rx="8.5" ry="8.5"/>
<rect x="1441.10" y="529.90" width="38.20" height="107.40" rx="8.5" ry="8.5"/>
<rect x="1496.90" y="586.10" width="122.00" height="33.30" rx="8.5" ry="8.5"/>
<rect x="1481.60" y="664.90" width="121.80" height="33.20" rx="8.5" ry="8.5"/>
<rect x="1478.20" y="740.20" width="121.90" height="33.70" rx="8.5" ry="8.5"/>
<rect x="1368.20" y="815.20" width="121.90" height="33.70" rx="8.5" ry="8.5"/>
<rect x="1244.10" y="846.10" width="38.70" height="107.30" rx="8.5" ry="8.5"/>
<rect x="1128.90" y="848.60" width="38.70" height="108.20" rx="8.5" ry="8.5"/>
<rect x="998.90" y="848.60" width="38.70" height="108.20" rx="8.5" ry="8.5"/>
<rect x="833.20" y="847.70" width="38.20" height="107.90" rx="8.5" ry="8.5"/>
</g>
<g class="lb">
<text font-size="20" transform="translate(371.00 349.35) scale(1.06 0.98) translate(-371.00 -349.35)" x="371.0 371.0 371.0 371.0" y="325.9 346.3 366.8 387.2">西高島平</text>
<text font-size="20" transform="translate(436.00 349.35) scale(1.06 0.98) translate(-436.00 -349.35)" x="436.0 436.0 436.0 436.0" y="325.9 346.3 366.8 387.2">新高島平</text>
<text font-size="20" transform="translate(502.70 349.35) scale(1.06 0.98) translate(-502.70 -349.35)" x="502.7 502.7 502.7" y="336.1 356.6 377.0">高島平</text>
<text font-size="20" transform="translate(569.00 349.35) scale(1.06 0.98) translate(-569.00 -349.35)" x="569.0 569.0" y="346.3 366.8">西台</text>
<text font-size="20" transform="translate(636.40 349.35) scale(1.06 0.98) translate(-636.40 -349.35)" x="636.4 636.4" y="346.3 366.8">蓮根</text>
<text font-size="18.5" transform="translate(705.70 349.35) scale(1.06 0.98) translate(-705.70 -349.35)" x="705.7 705.7 705.7 705.7 705.7" y="320.1 338.7 357.4 376.1 394.8">志村三丁目</text>
<text font-size="20" transform="translate(769.30 349.35) scale(1.06 0.98) translate(-769.30 -349.35)" x="769.3 769.3 769.3 769.3" y="325.9 346.3 366.8 387.2">志村坂上</text>
<text font-size="20" transform="translate(834.50 349.35) scale(1.06 0.98) translate(-834.50 -349.35)" x="834.5 834.5 834.5" y="336.1 356.6 377.0">元蓮沼</text>
<text font-size="20" transform="translate(903.10 349.35) scale(1.06 0.98) translate(-903.10 -349.35)" x="903.1 903.1 903.1 903.1" y="325.9 346.3 366.8 387.2">板橋本町</text>
<text font-size="14.6" transform="translate(971.90 349.60) scale(1.06 0.98) translate(-971.90 -349.60)" x="971.9 971.9 971.9 971.9 971.9 971.9" y="318.0 333.3 348.6 363.9 379.2 394.5">板橋区役所前</text>
<text font-size="20" transform="translate(1037.90 350.40) scale(1.06 0.98) translate(-1037.90 -350.40)" x="1037.9 1037.9 1037.9" y="337.2 357.6 378.0">新板橋</text>
<text font-size="20" transform="translate(1108.60 350.40) scale(1.06 0.98) translate(-1108.60 -350.40)" x="1108.6 1108.6 1108.6" y="337.2 357.6 378.0">西巣鴨</text>
<text font-size="20" transform="translate(1181.10 350.40) scale(1.06 0.98) translate(-1181.10 -350.40)" x="1181.1 1181.1" y="347.4 367.8">巣鴨</text>
<text font-size="20" transform="translate(1238.50 383.35) scale(1.06 0.98) translate(-1238.50 -383.35)" x="1238.5 1238.5" y="380.3 400.8">千石</text>
<text font-size="20" transform="translate(1297.75 419.15) scale(1.06 0.98) translate(-1297.75 -419.15)" x="1297.8 1297.8" y="416.1 436.6">白山</text>
<text font-size="20" transform="translate(1395.90 461.10) scale(1.06 0.98) translate(-1395.90 -461.10)" x="1384.4 1405.8" y="470.4 470.4">春日</text>
<text font-size="20" transform="translate(1345.85 542.35) scale(1.06 0.98) translate(-1345.85 -542.35)" x="1345.8 1345.8 1345.8" y="529.1 549.6 570.0">水道橋</text>
<text font-size="20" transform="translate(1400.20 561.90) scale(1.06 0.98) translate(-1400.20 -561.90)" x="1400.2 1400.2 1400.2" y="548.7 569.1 589.5">神保町</text>
<text font-size="20" transform="translate(1460.20 583.60) scale(1.06 0.98) translate(-1460.20 -583.60)" x="1460.2 1460.2 1460.2" y="570.4 590.8 611.2">大手町</text>
<text font-size="20" transform="translate(1557.90 602.75) scale(1.06 0.98) translate(-1557.90 -602.75)" x="1535.2 1557.1 1579.0" y="612.1 612.1 612.1">日比谷</text>
<text font-size="20" transform="translate(1542.50 681.50) scale(1.06 0.98) translate(-1542.50 -681.50)" x="1519.8 1541.7 1563.6" y="690.8 690.8 690.8">内幸町</text>
<text font-size="20" transform="translate(1539.15 757.05) scale(1.06 0.98) translate(-1539.15 -757.05)" x="1516.5 1538.4 1560.2" y="766.4 766.4 766.4">御成門</text>
<text font-size="20" transform="translate(1429.15 832.05) scale(1.06 0.98) translate(-1429.15 -832.05)" x="1406.5 1428.4 1450.2" y="841.4 841.4 841.4">芝公園</text>
<text font-size="20" transform="translate(1263.45 899.75) scale(1.06 0.98) translate(-1263.45 -899.75)" x="1263.5 1263.5" y="896.7 917.2">三田</text>
<text font-size="20" transform="translate(1148.25 902.70) scale(1.06 0.98) translate(-1148.25 -902.70)" x="1148.2 1148.2 1148.2 1148.2" y="879.7 899.8 920.0 940.1">白金高輪</text>
<text font-size="20" transform="translate(1018.25 902.70) scale(1.06 0.98) translate(-1018.25 -902.70)" x="1018.2 1018.2 1018.2" y="889.8 909.9 930.0">白金台</text>
<text font-size="19" font-weight="700" transform="translate(852.30 901.65) scale(1.06 0.98) translate(-852.30 -901.65)" x="852.3 852.3" y="898.8 918.2">目黒</text>
</g>

<!-- ===== highlight ellipses ===== -->
<ellipse cx="970.85" cy="346.5" rx="33.4" ry="67.5" fill="none" stroke="#C00000" stroke-width="5.6" stroke-dasharray="17.5 5.79" stroke-dashoffset="20.4"/>
<ellipse cx="852.9" cy="902" rx="40.2" ry="67.3" fill="none" stroke="#0000CC" stroke-width="5.6" stroke-dasharray="16.1 5.34" stroke-dashoffset="12"/>

<!-- ===== arrows ===== -->
<path d="M968 449.5L956.2 620" fill="none" stroke="#FF0000" stroke-width="6" stroke-dasharray="17.7 6.7"/>
<path d="M970 416.7L953.8 442.5L983 444.7Z" fill="#FF0000"/>
<path d="M900.8 831.3L980 738" fill="none" stroke="#0000CC" stroke-width="6" stroke-dasharray="17.6 6.4" stroke-dashoffset="5"/>
<path d="M881.3 854.2L890 822L911.7 840.8Z" fill="#0000CC"/>

<!-- ===== travel time box ===== -->
<rect x="677.5" y="563.3" width="625" height="187.2" fill="#fff" stroke="#0000CC" stroke-width="7"/>
<text class="jp" font-size="46" font-weight="900" fill="#000" text-anchor="middle" x="730.2 778.4 826.2 872.9 914.4 960.4 1007.9 1055.1 1104.2 1152.1 1200.0 1247.9" y="649.2">目黒駅から板橋区役所前駅</text>
<text class="jp" font-size="46" font-weight="900" fill="#000" text-anchor="middle" y="705.3"><tspan x="907.2 948.6" y="705.3">まで</tspan><tspan x="988.8 1024.7" y="707.9" font-weight="700" font-size="55" font-family="Liberation Sans, sans-serif">38</tspan><tspan x="1066.8" y="705.3">分</tspan></text>

<!-- ===== headline ===== -->
<g filter="url(#tsh)">
<text class="jp" font-size="67.5" font-weight="900" fill="#FF0000" stroke="#FF0000" stroke-width="0.9" stroke-linejoin="round" text-anchor="middle" x="309.2 380.8 452.5 519.2 587.5 638.8 711.2 783.2 855.2 926.2 997.9" y="121.0">勤務地は、東京都板橋区</text>
<text class="jp" font-size="67.5" font-weight="900" fill="#000" stroke="#000" stroke-width="0.9" stroke-linejoin="round" text-anchor="middle" x="308.4 380.0 451.5 519.2 587.5 639.6 711.2 782.2 855.2 926.8 998.8 1070.0" y="199.2">最寄駅は、板橋区役所前駅</text>
</g>

<!-- ===== contact box ===== -->
<rect x="1232.3" y="20.5" width="373.2" height="240" fill="#CCECFF" stroke="#000" stroke-width="3" stroke-dasharray="2.5 2.53"/>
<text class="jp" font-size="24.6" font-weight="700" fill="#000" text-anchor="middle" x="1277.7 1302.9 1329.7 1350.4 1370.0 1394.6 1420.8 1446.2 1469.6 1492.0 1515.0 1538.2 1556.6" y="104.6">企業名・住所等については,</text>
<text class="jp" font-size="24.6" font-weight="700" fill="#000" text-anchor="middle" x="1273.7 1301.2 1327.1 1353.3 1378.7 1404.5 1431.2 1457.4 1483.8 1509.7 1535.5 1560.8" y="135.6">一般社団法人全国雇用協会</text>
<text class="jp" font-size="24.6" font-weight="700" fill="#000" text-anchor="middle" y="166.9"><tspan x="1251.7 1282.0 1307.9 1333.2 1359.6" y="166.9">（電話番号</tspan><tspan x="1381.7 1398.8 1414.2 1431.2 1448.8 1465.8 1482.4 1498.3 1512.5 1529.6 1546.2 1563.3" y="166.9" font-weight="500" font-size="32">03-6206-8058</tspan><tspan x="1584.5" y="166.9">）</tspan></text>
<text class="jp" font-size="24.6" font-weight="700" fill="#000" text-anchor="middle" x="1289.5 1312.4 1335.3 1361.2 1385.3 1410.3 1435.8 1459.6 1481.4 1500.8 1523.8 1545.3" y="197.7">までお問い合わせください</text>

<!-- ===== small caption (upside-down) ===== -->
<text class="jp" x="0" y="0" font-size="15.2" fill="#000" text-anchor="middle" transform="translate(461 1000.3) rotate(180)" textLength="106" lengthAdjust="spacing" dominant-baseline="central">エスダブル販売</text>

<!-- ===== footnote ===== -->
<text class="jp" font-size="33.4" font-weight="900" fill="#000" text-anchor="middle" x="264.4 305.0 344.4 373.0 407.5 441.1 475.5 500.6 536.2 570.0 601.2 634.2 664.9 695.8 731.0 763.2 795.6 828.0 861.4 886.2 921.2 958.8 995.0 1030.6 1065.5 1097.6 1121.4 1157.5 1194.4 1230.0 1265.6 1299.6 1332.5 1360.6 1392.5 1422.0 1455.6 1490.4 1519.8 1546.2 1577.6 1608.2 1644.2" y="1052.3">（注）協会は、企業を斡旋しませんので、説明会会場で、当該企業のブースをお訪ねください。</text>
</svg>
</body>
</html>
